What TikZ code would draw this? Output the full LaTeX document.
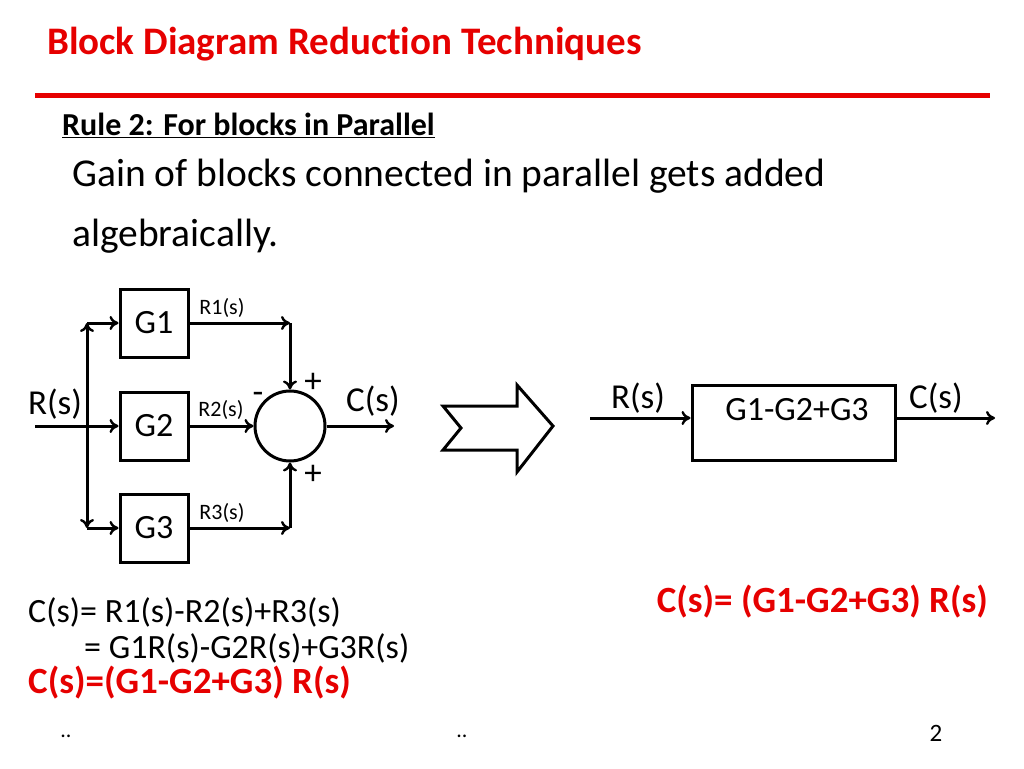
\documentclass[tikz,border=0pt]{standalone}
\usepackage{fontspec}
\setmainfont{Carlito}[Ligatures={NoCommon,NoRare,NoContextual}]
\usetikzlibrary{arrows.meta}
\definecolor{red1}{RGB}{230,0,0}
\begin{document}
\begin{tikzpicture}[x=1pt,y=-1pt,
  ln/.style={line width=3pt,-{To[length=9pt,width=14pt,line width=2.4pt]}},
  pl/.style={line width=3pt},
  blk/.style={draw,line width=3pt,minimum width=68pt,minimum height=68pt,inner sep=0pt,font=\fontsize{34}{38}\selectfont},
  lbl/.style={font=\fontsize{22}{24}\selectfont,inner sep=0pt},
  big/.style={font=\fontsize{35}{38}\selectfont,inner sep=0pt}]
\useasboundingbox (0,0) rectangle (1024,768);
\node[anchor=west,text=red1,font=\fontsize{39}{42}\selectfont\bfseries,inner sep=0pt] (title) at (47,44) {Block Diagram Reduction Techniques};
\draw[red1,line width=5pt] (35,95) -- (990,95);
\node[anchor=west,font=\fontsize{32}{34}\selectfont\bfseries,inner sep=0pt] (rule) at (62,125) {\underline{Rule 2: For blocks in Parallel}};
\node[anchor=west,font=\fontsize{39.5}{42}\selectfont,inner sep=0pt] (t1) at (72,176) {Gain of blocks connected in parallel gets added};
\node[anchor=west,font=\fontsize{39.5}{42}\selectfont,inner sep=0pt] (t2) at (72,236) {algebraically.};
% blocks
\node[blk] (g1) at (154,323) {G1};
\node[blk] (g2) at (154,426) {G2};
\node[blk] (g3) at (154,528) {G3};
\node[draw,circle,line width=3pt,minimum size=70pt,inner sep=0pt] (s) at (290,426) {};
\coordinate (in) at (35,426);
\coordinate (bt) at (87,323);
\coordinate (bb) at (87,528);
\coordinate (c1) at (290,323);
\coordinate (c3) at (290,528);
\coordinate (out) at (394,426);
\draw[ln] (in) -- (g2);
\draw[pl,{To[length=9pt,width=14pt,line width=2.4pt]}-{To[length=9pt,width=14pt,line width=2.4pt]}] (bt) -- (bb);
\draw[ln] (bt) -- (g1);
\draw[ln] (bb) -- (g3);
\draw[ln] (g1) -- (c1);
\draw[ln] (c1) -- (s);
\draw[ln] (g3) -- (c3);
\draw[ln] (c3) -- (s);
\draw[ln] (g2) -- (s);
\draw[ln] (s) -- (out);
\node[big] (rs) at (55,404) {R(s)};
\node[big] (cs) at (373,401) {C(s)};
\node[lbl] (r1) at (222,308) {R1(s)};
\node[lbl] (r2) at (221,410) {R2(s)};
\node[lbl] (r3) at (222,513) {R3(s)};
\node[big] (p1) at (313,383) {+};
\node[big] (p3) at (313,475) {+};
\node[big] (m) at (258,398) {-};
% big arrow
\draw[line width=3pt,line join=miter] (443,406) -- (517,406) -- (517,385) -- (553,426) -- (517,472) -- (517,450) -- (443,450) -- (461,428) -- cycle;
% right diagram
\node[draw,line width=3pt,minimum width=203pt,minimum height=75pt,inner sep=0pt] (g) at (793.5,422.5) {};
\node[big,font=\fontsize{34}{38}\selectfont] (gt) at (797,410) {G1-G2+G3};
\coordinate (rin) at (590,418);
\coordinate (rout) at (995,418);
\draw[ln] (rin) -- (g.west |- rin);
\draw[ln] (g.east |- rout) -- (rout);
\node[big] (rs2) at (638,398) {R(s)};
\node[big] (cs2) at (936,398) {C(s)};
% equations
\node[anchor=west,font=\fontsize{34}{36}\selectfont,inner sep=0pt] (e1) at (28,612) {C(s)= R1(s)-R2(s)+R3(s)};
\node[anchor=west,font=\fontsize{34}{36}\selectfont,inner sep=0pt] (e2) at (28,648) {\hspace{56pt}= G1R(s)-G2R(s)+G3R(s)};
\node[anchor=west,text=red1,font=\fontsize{37}{40}\selectfont\bfseries,inner sep=0pt] (e3) at (28,683) {C(s)=(G1-G2+G3) R(s)};
\node[anchor=east,text=red1,font=\fontsize{37}{40}\selectfont\bfseries,inner sep=0pt] (e4) at (988,602) {C(s)= (G1-G2+G3) R(s)};
\node[font=\fontsize{22}{24}\selectfont] (d1) at (66,736) {..};
\node[font=\fontsize{22}{24}\selectfont] (d2) at (462,736) {..};
\node[font=\fontsize{25}{28}\selectfont] (pg) at (936,733) {2};
\end{tikzpicture}
\end{document}
